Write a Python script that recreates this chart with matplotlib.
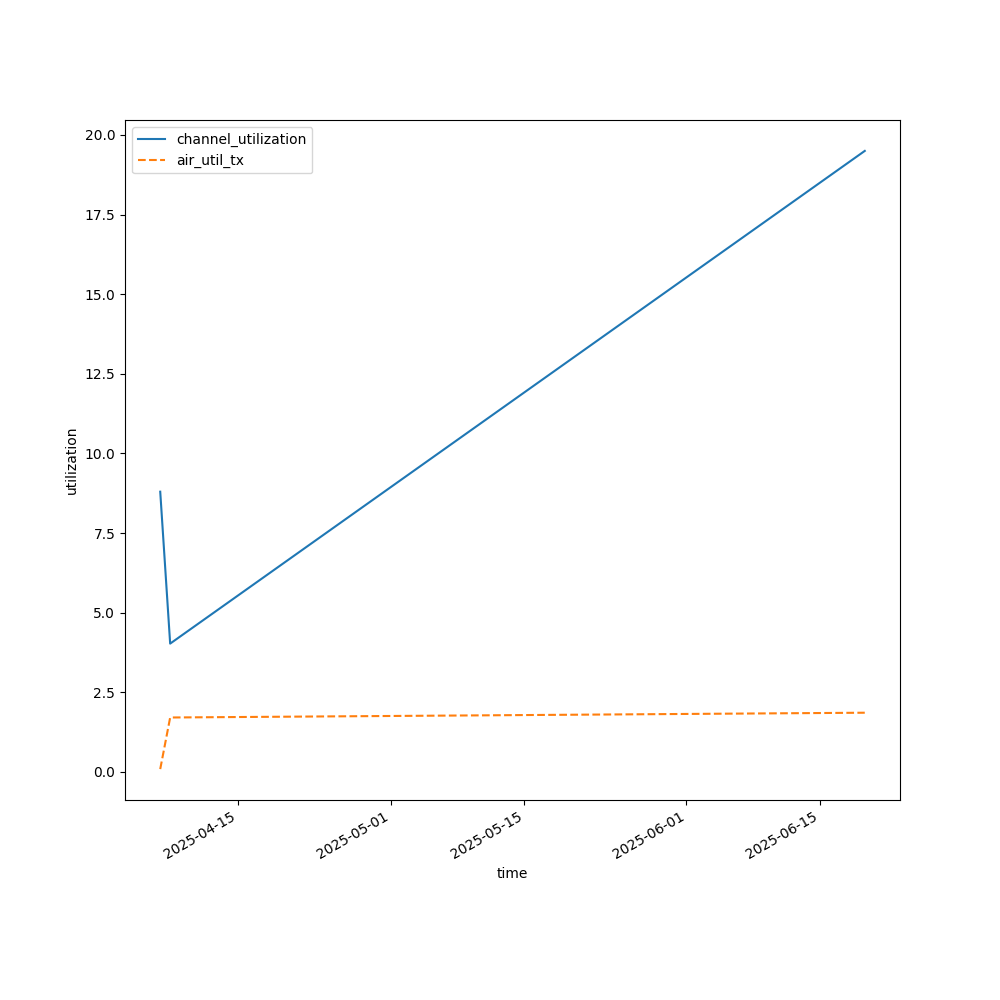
import matplotlib
matplotlib.use('Agg')
import matplotlib.pyplot as plt
import pandas as pd

times = pd.to_datetime(['2025-04-06 20:00', '2025-04-07 21:00', '2025-06-19 17:00'])
channel_utilization = [8.8, 4.03, 19.5]
air_util_tx = [0.09, 1.71, 1.86]

fig, ax = plt.subplots(figsize=(10, 10), dpi=100)
ax.plot(times, channel_utilization, label='channel_utilization')
ax.plot(times, air_util_tx, '--', label='air_util_tx')
ax.set_xlabel('time')
ax.set_ylabel('utilization')
ax.legend(loc='upper left')
fig.autofmt_xdate()
fig.savefig('out.png')
